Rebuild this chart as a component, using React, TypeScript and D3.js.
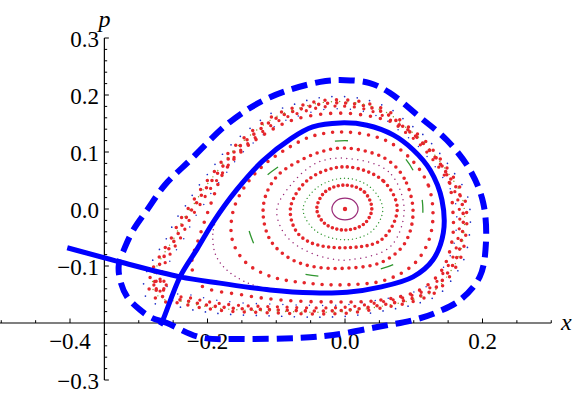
import React from 'react';
import * as d3 from 'd3';

const W = 576;
const H = 396;

// axes
const xDomain = [-0.5, 0.3];
const pDomain = [-0.3, 0.3];
const xOrigin = -0.35; // where the p axis crosses
const pOrigin = -0.2; // where the x axis crosses
const xTickLabels = [-0.4, -0.2, 0.0, 0.2];
const pTickLabels = [0.3, 0.2, 0.1, 0.0, -0.1, -0.3];

// blue curves
const dashedOuter = [
  [-0.211, -0.225], [-0.259, -0.2], [-0.281, -0.191], [-0.298, -0.177], [-0.317, -0.154],
  [-0.327, -0.125], [-0.329, -0.098], [-0.32, -0.067], [-0.308, -0.037], [-0.288, -0.002],
  [-0.262, 0.042], [-0.225, 0.086], [-0.167, 0.153], [-0.109, 0.196], [-0.036, 0.223],
  [0.0, 0.226], [0.036, 0.221], [0.065, 0.204], [0.109, 0.161], [0.148, 0.121],
  [0.182, 0.068], [0.201, 0.011], [0.205, -0.06], [0.196, -0.119], [0.167, -0.16],
  [0.134, -0.181], [0.099, -0.195], [0.047, -0.207], [-0.017, -0.221], [-0.065, -0.226],
  [-0.148, -0.228],
];
const separatrix = [
  [-0.404, -0.068], [-0.327, -0.093], [-0.24, -0.119], [-0.182, -0.13], [-0.109, -0.142],
  [-0.047, -0.147], [0.003, -0.146], [0.051, -0.137], [0.099, -0.119], [0.128, -0.089],
  [0.143, -0.042], [0.141, 0.016], [0.124, 0.068], [0.099, 0.104], [0.07, 0.13],
  [0.032, 0.147], [-0.007, 0.151], [-0.047, 0.144], [-0.078, 0.124], [-0.12, 0.084],
  [-0.158, 0.033], [-0.19, -0.02], [-0.215, -0.07], [-0.24, -0.119], [-0.265, -0.195],
  [-0.269, -0.204],
];

// invariant curves (Poincaré section)
const centerPoint = [[0, 0]];
const ringPurpleSmall = [
  [0.019, 0], [0.013, 0.014], [0, 0.019], [-0.013, 0.014], [-0.019, 0], [-0.013, -0.014],
  [0, -0.019], [0.013, -0.014],
];
const ringRed1 = [
  [0.039, 0], [0.028, 0.03], [0, 0.042], [-0.029, 0.03], [-0.041, 0], [-0.029, -0.026],
  [0, -0.037], [0.028, -0.026],
];
const ringGreen1 = [
  [0.055, 0], [0.037, 0.038], [0, 0.054], [-0.04, 0.038], [-0.061, 0], [-0.043, -0.038],
  [0, -0.054], [0.039, -0.039],
];
const ringRed2 = [
  [0.076, 0], [0.055, 0.05], [0, 0.074], [-0.053, 0.052], [-0.079, 0.004], [-0.072, -0.037],
  [-0.05, -0.059], [0, -0.068], [0.053, -0.054],
];
const ringPurple2 = [
  [0.086, 0], [0.063, 0.066], [0, 0.089], [-0.041, 0.081], [-0.076, 0.046], [-0.099, 0],
  [-0.09, -0.04], [-0.065, -0.068], [-0.026, -0.086], [0.007, -0.089], [0.066, -0.066],
];
const ringRed3 = [
  [0.099, -0.005], [0.086, 0.054], [0.058, 0.089], [0, 0.107], [-0.036, 0.1], [-0.07, 0.082],
  [-0.097, 0.06], [-0.115, 0.025], [-0.119, -0.011], [-0.109, -0.054], [-0.084, -0.084],
  [-0.051, -0.1], [0, -0.104], [0.054, -0.093], [0.087, -0.06],
];
const ringGreen2 = [
  [0.113, 0.007], [0.099, 0.068], [0.073, 0.104], [0.025, 0.118], [-0.029, 0.116],
  [-0.087, 0.082], [-0.127, 0.042], [-0.143, -0.007], [-0.135, -0.054], [-0.121, -0.082],
  [-0.08, -0.107], [-0.036, -0.118], [0.022, -0.112], [0.077, -0.093], [0.106, -0.051],
];
const ringRed4 = [
  [0.128, -0.011], [0.121, 0.042], [0.097, 0.086], [0.058, 0.121], [0, 0.135], [-0.047, 0.128],
  [-0.087, 0.104], [-0.121, 0.074], [-0.147, 0.037], [-0.163, -0.005], [-0.164, -0.054],
  [-0.145, -0.093], [-0.109, -0.118], [-0.055, -0.13], [0, -0.133], [0.058, -0.125],
  [0.099, -0.098], [0.121, -0.058],
];
const arcPurpleSep = [
  [-0.185, -0.011], [-0.192, -0.04], [-0.188, -0.081], [-0.167, -0.112], [-0.124, -0.137],
  [-0.065, -0.144],
];
const ringRed5 = [
  [0.157, -0.005], [0.148, 0.06], [0.116, 0.112], [0.08, 0.147], [0, 0.168], [-0.076, 0.156],
  [-0.124, 0.126], [-0.148, 0.104], [-0.177, 0.063], [-0.193, 0.016], [-0.211, -0.046],
  [-0.223, -0.098], [-0.211, -0.133], [-0.148, -0.151], [-0.09, -0.16], [-0.017, -0.163],
  [0.051, -0.16], [0.109, -0.142], [0.141, -0.107], [0.156, -0.054],
];
const chaosBand = [
  [0.172, -0.011], [0.167, 0.025], [0.145, 0.068], [0.128, 0.095], [0.109, 0.121],
  [0.087, 0.142], [0.063, 0.165], [0.029, 0.181], [0, 0.186], [-0.036, 0.184],
  [-0.068, 0.174], [-0.099, 0.16], [-0.138, 0.126], [-0.163, 0.098], [-0.182, 0.068],
  [-0.204, 0.033], [-0.218, 0.007], [-0.233, -0.019], [-0.246, -0.051], [-0.26, -0.077],
  [-0.273, -0.107], [-0.276, -0.139], [-0.262, -0.156], [-0.236, -0.16], [-0.204, -0.168],
  [-0.163, -0.174], [-0.099, -0.177], [-0.041, -0.179], [0.007, -0.177], [0.055, -0.168],
  [0.095, -0.158], [0.128, -0.142], [0.15, -0.111], [0.164, -0.081], [0.17, -0.049],
];
const island = [[-0.26, -0.133], [-0.269, -0.123], [-0.278, -0.133], [-0.269, -0.144]];

const RED = '#e5262b';
const BLUE = '#0000ff';
const PURPLE = '#9a2a78';
const GREEN = '#2f962f';
const FONT = "'Times New Roman', 'Liberation Serif', Times, serif";

export default function App() {
  const xs = d3.scaleLinear().domain(xDomain).range([1.25, 551.25]);
  const ys = d3.scaleLinear().domain(pDomain).range([380, 38]);

  const open = d3.line<number[]>().x(d => xs(d[0])).y(d => ys(d[1])).curve(d3.curveCatmullRom.alpha(0.5));
  const closed = d3.line<number[]>().x(d => xs(d[0])).y(d => ys(d[1])).curve(d3.curveCatmullRomClosed.alpha(0.5));

  const cx = xs(0);
  const cy = ys(0);
  const about = (k: number) => `translate(${cx},${cy}) scale(${k}) translate(${-cx},${-cy})`;

  const dots = (pts: number[][], color: string, w: number, gap: number, extra: any = {}) => (
    <path d={closed(pts) || ''} fill="none" stroke={color} strokeWidth={w}
      strokeDasharray={`0 ${gap}`} strokeLinecap="round" {...extra} />
  );

  const x0 = xs(xOrigin);
  const y0 = ys(pOrigin);

  const xTicks = d3.range(-10, 7).filter(i => i !== -7).map(i => ({ v: i * 0.05, major: i % 4 === 0 }));
  const pTicks = d3.range(-15, 16).filter(i => i !== -10).map(i => ({ v: i * 0.02, major: i % 5 === 0 }));

  const fmt = (v: number) => (v < 0 ? '\u2212' : '') + Math.abs(v).toFixed(1);
  const txt = { fontFamily: FONT };

  return (
    <svg width={W} height={H} style={{ position: 'absolute', left: 0, top: 0, background: '#fff' }}>
      {/* axes */}
      <line x1={0} x2={xs(0.3)} y1={y0} y2={y0} stroke="#000" strokeWidth={1.2} />
      <line x1={x0} x2={x0} y1={ys(0.3)} y2={ys(-0.3)} stroke="#000" strokeWidth={1.2} />
      {xTicks.map((t, i) => (
        <line key={'xt' + i} x1={xs(t.v)} x2={xs(t.v)} y1={y0} y2={y0 - (t.major ? 4.5 : 2.8)} stroke="#000" strokeWidth={1} />
      ))}
      {pTicks.map((t, i) => (
        <line key={'pt' + i} x1={x0} x2={x0 + (t.major ? 4.5 : 2.8)} y1={ys(t.v)} y2={ys(t.v)} stroke="#000" strokeWidth={1} />
      ))}
      {xTickLabels.map(v => (
        <text key={'xl' + v} x={xs(v)} y={349} textAnchor="middle" fontSize={23} style={txt}>{fmt(v)}</text>
      ))}
      {pTickLabels.map(v => (
        <text key={'pl' + v} x={99} y={ys(v) + 8.5} textAnchor="end" fontSize={23} style={txt}>{fmt(v)}</text>
      ))}
      <text x={x0} y={27} textAnchor="middle" fontSize={24} fontStyle="italic" style={txt}>p</text>
      <text x={561} y={330} fontSize={24} fontStyle="italic" style={txt}>x</text>

      {/* chaotic band */}
      {dots(chaosBand, RED, 3.6, 9)}
      {dots(chaosBand, RED, 3.4, 11, { transform: about(1.03), strokeDashoffset: 3 })}
      {dots(chaosBand, RED, 3.4, 10, { transform: about(0.97), strokeDashoffset: 6 })}
      {dots(chaosBand, '#2030c8', 1.6, 12, { transform: about(1.06), strokeDashoffset: 2 })}
      {dots(chaosBand, '#2030c8', 1.6, 14, { transform: about(0.945), strokeDashoffset: 6 })}
      {dots(chaosBand, '#8c9a22', 1.4, 8, { transform: about(1.012), strokeDashoffset: 1 })}
      {dots(island, RED, 3.4, 4.5)}

      {/* regular curves */}
      {dots(ringRed5, RED, 3.6, 10)}
      {dots(ringRed4, RED, 3.6, 9)}
      <path d={open(arcPurpleSep) || ''} fill="none" stroke={PURPLE} strokeWidth={1.5} strokeDasharray="0 5" strokeLinecap="round" />
      <path d={closed(ringGreen2) || ''} fill="none" stroke={GREEN} strokeWidth={1.3} strokeDasharray="13 63" />
      {dots(ringRed3, RED, 3.6, 7)}
      {dots(ringPurple2, PURPLE, 1.5, 5.5)}
      {dots(ringRed2, RED, 3.6, 5.5)}
      {dots(ringGreen1, GREEN, 1.4, 4)}
      {dots(ringRed1, RED, 3.6, 4.6)}
      <path d={closed(ringPurpleSmall) || ''} fill="none" stroke={PURPLE} strokeWidth={1.2} />
      {centerPoint.map((d, i) => (
        <circle key={'c' + i} cx={xs(d[0])} cy={ys(d[1])} r={2.2} fill={RED} />
      ))}

      {/* blue curves */}
      <path d={closed(dashedOuter) || ''} fill="none" stroke={BLUE} strokeWidth={6} strokeDasharray="16 8" />
      <path d={open(separatrix) || ''} fill="none" stroke={BLUE} strokeWidth={5} strokeLinejoin="round" />
    </svg>
  );
}
